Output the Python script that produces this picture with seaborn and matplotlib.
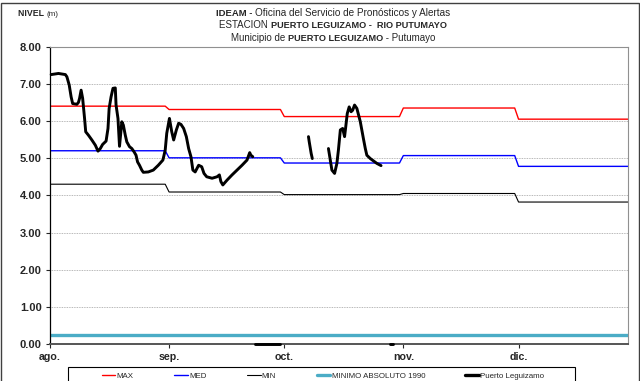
import seaborn as sns
import matplotlib.pyplot as plt
import pandas as pd
import numpy as np
from matplotlib.lines import Line2D
from matplotlib.patches import Rectangle
from matplotlib.offsetbox import TextArea, HPacker, AnchoredOffsetbox

# ── datos ─────────────────────────────────────────────────────────────────────
# dias contados desde el 1 de agosto
meses = ["ago.", "sep.", "oct.", "nov.", "dic."]
mes_inicio = [0, 31, 61, 92, 122]
mes_fin = [30, 60, 91, 121, 152]

nivel_max = [6.40, 6.31, 6.12, 6.35, 6.05]
nivel_med = [5.20, 5.01, 4.87, 5.07, 4.78]
nivel_min = [4.30, 4.09, 4.02, 4.05, 3.82]
minimo_absoluto_1990 = 0.25

# serie observada Puerto Leguizamo (tramos separados por faltantes)
obs_dia = [0.3, 2.2, 4.0, 4.4, 5.0, 5.5, 5.9, 7.0, 7.4, 7.7, 8.1, 8.5, 9.0, 9.3,
           10.0, 10.9, 11.8, 12.5, 13.1, 13.7, 14.6, 15.1, 15.4, 15.9, 16.4, 17.0,
           17.2, 17.7, 18.1, 18.7, 19.1, 19.6, 20.0, 20.7, 21.3, 21.9, 22.4, 22.8,
           23.3, 23.9, 24.3, 25.6, 26.9, 28.2, 29.4, 30.0, 30.4, 31.1, 31.7, 32.2,
           32.9, 33.5, 34.1, 34.8, 35.5, 36.1, 36.7, 37.2, 37.8, 38.7, 39.5, 40.1,
           40.8, 42.2, 43.5, 44.1, 44.5, 45.0, 46.1, 47.4, 48.7, 50.0, 51.3, 52.0,
           52.3, 52.8,
           53.5, 60.0,
           67.3, 67.5, 68.0, 68.3,
           72.5, 73.4, 74.1, 74.7, 75.1, 75.6, 76.2, 76.7, 77.0, 77.4, 77.9, 78.4,
           78.8, 79.3, 79.9, 80.8, 81.6, 82.1, 82.5, 83.4, 85.1, 86.2,
           88.4, 89.4]
obs_nivel = [7.25, 7.28, 7.25, 7.19, 6.97, 6.65, 6.47, 6.45, 6.50, 6.61, 6.83, 6.61,
             6.07, 5.71, 5.62, 5.49, 5.35, 5.19, 5.26, 5.37, 5.46, 5.80, 6.34, 6.65,
             6.88, 6.89, 6.43, 6.07, 5.32, 5.98, 5.89, 5.62, 5.44, 5.31, 5.26, 5.17,
             5.08, 4.90, 4.81, 4.68, 4.62, 4.63, 4.68, 4.81, 4.95, 5.22, 5.67, 6.07,
             5.71, 5.49, 5.76, 5.94, 5.91, 5.80, 5.58, 5.26, 5.04, 4.68, 4.63, 4.81,
             4.77, 4.59, 4.50, 4.46, 4.50, 4.55, 4.37, 4.28, 4.41, 4.55, 4.68, 4.81,
             4.95, 5.15, 5.08, 5.04,
             0.0, 0.0,
             5.58, 5.44, 5.13, 4.99,
             5.26, 4.68, 4.59, 4.86, 5.22, 5.76, 5.80, 5.58, 5.84, 6.20, 6.38, 6.25,
             6.29, 6.43, 6.34, 5.98, 5.53, 5.26, 5.08, 4.99, 4.86, 4.80,
             0.0, 0.0]
obs_tramo = [1] * 76 + [2] * 2 + [3] * 4 + [4] * 22 + [5] * 2

# ── tablas ────────────────────────────────────────────────────────────────────
dias_ref = [d for a, b in zip(mes_inicio, mes_fin) for d in (a, b)]
df_ref = pd.DataFrame({
    "dia": dias_ref,
    "MAX": [v for v in nivel_max for _ in range(2)],
    "MED": [v for v in nivel_med for _ in range(2)],
    "MIN": [v for v in nivel_min for _ in range(2)],
    "ABS": [minimo_absoluto_1990] * len(dias_ref),
})
df_obs = pd.DataFrame({"dia": obs_dia, "nivel": obs_nivel, "tramo": obs_tramo})

# ── figura ────────────────────────────────────────────────────────────────────
sns.set_style("white")
plt.rcParams["font.family"] = ["Liberation Sans", "DejaVu Sans"]

fig = plt.figure(figsize=(6.4, 3.81), dpi=100)
ax = fig.add_axes([50 / 640, 1 - 344 / 381, 578 / 640, (344 - 46.7) / 381])

for y in range(1, 8):
    ax.axhline(y, color="#a0a0a0", lw=0.6, ls=(0, (1, 1)), zorder=0)

sns.lineplot(data=df_ref, x="dia", y="MAX", ax=ax, color="#ff0000", lw=1.0)
sns.lineplot(data=df_ref, x="dia", y="MED", ax=ax, color="#0000ff", lw=1.0)
sns.lineplot(data=df_ref, x="dia", y="MIN", ax=ax, color="#000000", lw=0.8)
sns.lineplot(data=df_ref, x="dia", y="ABS", ax=ax, color="#4bacc6", lw=2.4)
sns.lineplot(data=df_obs, x="dia", y="nivel", units="tramo", estimator=None,
             sort=False, ax=ax, color="black", lw=2.1, clip_on=False, zorder=5,
             solid_joinstyle="round", solid_capstyle="round")

ax.set_xlim(0, 150.5)
ax.set_ylim(0, 8)
ax.set_xticks(mes_inicio)
ax.set_xticklabels(meses, fontsize=7.7, fontweight="bold")
ax.set_yticks(range(0, 9))
ax.set_yticklabels([f"{v:.2f}" for v in range(0, 9)], fontsize=8, fontweight="bold")
ax.tick_params(axis="both", direction="out", length=3, width=0.8, pad=3,
               bottom=True, left=True)
ax.set_xlabel("")
ax.set_ylabel("")

ax.spines["left"].set_color("black")
ax.spines["left"].set_linewidth(0.9)
ax.spines["bottom"].set_color("#555555")
ax.spines["bottom"].set_linewidth(1.4)
for s in ("top", "right"):
    ax.spines[s].set_color("#909090")
    ax.spines[s].set_linewidth(0.8)

# leyenda (el recuadro se dibuja aparte, mas ancho que el contenido)
manijas = [
    Line2D([], [], color="#ff0000", lw=1.0),
    Line2D([], [], color="#0000ff", lw=1.0),
    Line2D([], [], color="black", lw=0.8),
    Line2D([], [], color="#4bacc6", lw=2.4),
    Line2D([], [], color="black", lw=2.4),
]
etiquetas = ["MAX", "MED", "MIN", "MINIMO ABSOLUTO 1990", "Puerto Leguizamo"]
fig.legend(manijas, etiquetas, ncol=5, loc="center",
           bbox_to_anchor=(323 / 640, 1 - 376 / 381), fontsize=5.7,
           frameon=False, handlelength=1.75, handletextpad=0.15,
           columnspacing=5.1, borderpad=0, borderaxespad=0)
fig.add_artist(Rectangle((68 / 640, -0.02), (575 - 68) / 640, 0.02 + 14 / 381,
                         transform=fig.transFigure, fill=False,
                         edgecolor="black", lw=0.8))


def linea_mixta(partes, x, y, loc="center"):
    cajas = [TextArea(t, textprops=dict(fontsize=s, fontweight=w)) for t, w, s in partes]
    fila = HPacker(children=cajas, align="baseline", pad=0, sep=0)
    caja = AnchoredOffsetbox(loc=loc, child=fila, pad=0, borderpad=0, frameon=False,
                             bbox_to_anchor=(x, y), bbox_transform=fig.transFigure)
    fig.add_artist(caja)


xc = 333 / 640
linea_mixta([("IDEAM - ", "bold", 6.8),
             ("Oficina del Servicio de Pronósticos y Alertas", "normal", 7.2)],
            xc, 1 - 13 / 381)
linea_mixta([("ESTACION ", "normal", 7.0),
             ("PUERTO LEGUIZAMO -  RIO PUTUMAYO", "bold", 6.6)], xc, 1 - 25.5 / 381)
linea_mixta([("Municipio de ", "normal", 7.0), ("PUERTO LEGUIZAMO", "bold", 6.6),
             (" - Putumayo", "normal", 7.0)], xc, 1 - 38 / 381)

linea_mixta([("NIVEL ", "bold", 6.3), ("(m)", "normal", 5.8)],
            18 / 640, 1 - 14 / 381, loc="center left")

# marco exterior
fig.add_artist(Rectangle((1 / 640, -0.01), 638 / 640, 1 - 2.5 / 381 + 0.01,
                         transform=fig.transFigure, fill=False,
                         edgecolor="#404040", lw=1.0))

fig.savefig("out.png", dpi=100)
